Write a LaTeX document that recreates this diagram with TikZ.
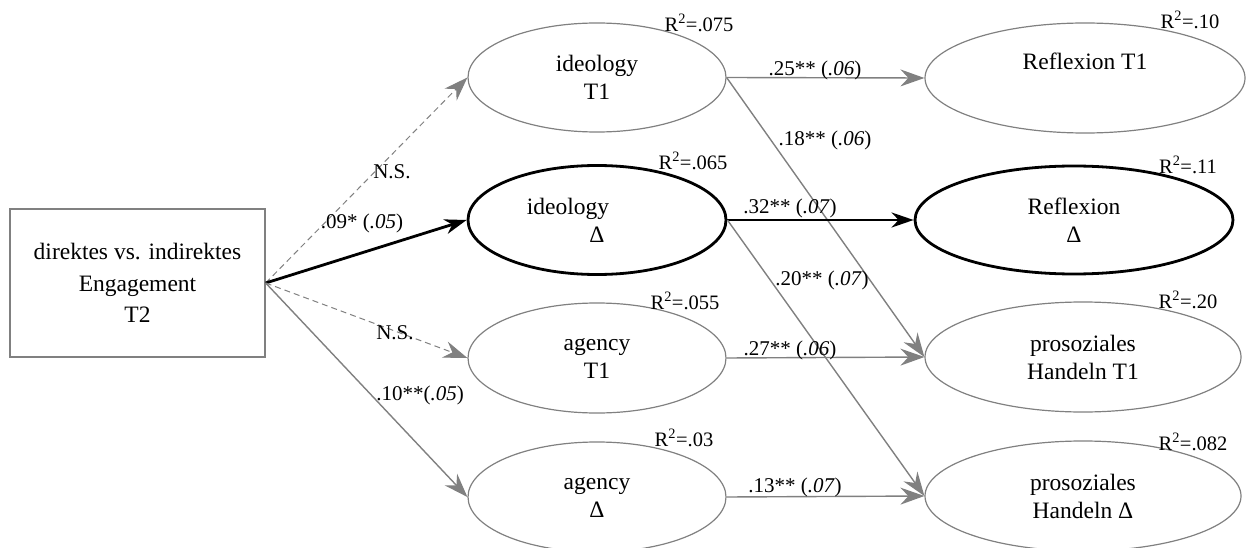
\documentclass[tikz,border=0pt]{standalone}
\usepackage{fontspec}
\setmainfont{Liberation Serif}
\usetikzlibrary{shapes.geometric,arrows.meta}
\definecolor{pathgray}{RGB}{128,128,128}
\begin{document}
\begin{tikzpicture}[x=1pt,y=-1pt,
  latent/.style={ellipse,draw=pathgray,line width=1.2pt,inner sep=0pt,
    align=center,font=\fontsize{23.5}{28}\selectfont},
  latentsig/.style={latent,draw=black,line width=2.8pt},
  observed/.style={rectangle,draw=pathgray,line width=1.4pt,inner sep=0pt,
    align=center,font=\fontsize{23.5}{31.5}\selectfont},
  tip/.style={-{Stealth[length=24pt,width=17pt,inset=8pt]}},
  path/.style={tip,draw=pathgray,line width=1.4pt},
  pathsig/.style={-{Stealth[length=22pt,width=15pt,inset=7pt]},draw=black,line width=2.8pt},
  pathns/.style={tip,draw=pathgray,line width=1pt,dash pattern=on 6pt off 4pt},
  coef/.style={inner sep=0pt,font=\fontsize{21}{24}\selectfont},
  rsq/.style={inner sep=0pt,font=\fontsize{20.5}{24}\selectfont}]
\useasboundingbox (0,0) rectangle (1247,548);

% predictor
\node[observed,minimum width=255pt,minimum height=148pt] (eng) at (137.5,283)
  {direktes vs. indirektes\\Engagement\\T2};

% mediators
\node[latent,minimum width=258pt,minimum height=109pt] (idT1) at (597,77.5) {ideology\\T1};
\node[latentsig,minimum width=258pt,minimum height=109pt] (idD) at (597,220) {ideology\hspace*{58pt}\\Δ};
\node[latent,minimum width=258pt,minimum height=110pt] (agT1) at (597,358) {agency\\T1};
\node[latent,minimum width=258pt,minimum height=110pt] (agD) at (597,497) {agency\\Δ};

% outcomes
\node[latent,minimum width=320pt,minimum height=110pt] (refT1) at (1085,78) {Reflexion T1\\[6pt]\mbox{}};
\node[latentsig,minimum width=318pt,minimum height=108pt] (refD) at (1074,220) {Reflexion\\Δ};
\node[latent,minimum width=316pt,minimum height=110pt] (proT1) at (1083,357) {prosoziales\\Handeln T1};
\node[latent,minimum width=316pt,minimum height=110pt] (proD) at (1083,496) {prosoziales\\Handeln Δ};

% paths from the predictor
\draw[pathns] (eng.east) -- (idT1.west);
\draw[pathsig] (eng.east) -- (idD.west);
\draw[pathns] (eng.east) -- (agT1.west);
\draw[path] (eng.east) -- (agD.west);

% paths to the outcomes
\draw[path] (idT1.east) -- (refT1.west);
\draw[path] (idT1.east) -- (proT1.west);
\draw[pathsig] (idD.east) -- (refD.west);
\draw[path] (idD.east) -- (proD.west);
\draw[path] (agT1.east) -- (proT1.west);
\draw[path] (agD.east) -- (proD.west);

% coefficients
\node[coef] (cNSa) at (392,172) {N.S.};
\node[coef] (c09) at (362,223) {.09* (\textit{.05})};
\node[coef] (cNSb) at (395,333) {N.S.};
\node[coef] (c10) at (420,395) {.10**(\textit{.05})};
\node[coef] (c25) at (815,70) {.25** (\textit{.06})};
\node[coef] (c18) at (825,140) {.18** (\textit{.06})};
\node[coef] (c32) at (790,208) {.32** (\textit{.07})};
\node[coef] (c20) at (822,280) {.20** (\textit{.07})};
\node[coef] (c27) at (790,350) {.27** (\textit{.06})};
\node[coef] (c13) at (795,487) {.13** (\textit{.07})};

% explained variance
\node[rsq] (rIdT1) at (699,23) {R\textsuperscript{2}=.075};
\node[rsq] (rIdD) at (693,161) {R\textsuperscript{2}=.065};
\node[rsq] (rAgT1) at (685,301) {R\textsuperscript{2}=.055};
\node[rsq] (rAgD) at (684,438) {R\textsuperscript{2}=.03};
\node[rsq] (rRefT1) at (1190,20) {R\textsuperscript{2}=.10};
\node[rsq] (rRefD) at (1188,165) {R\textsuperscript{2}=.11};
\node[rsq] (rProT1) at (1188,300) {R\textsuperscript{2}=.20};
\node[rsq] (rProD) at (1193,442) {R\textsuperscript{2}=.082};
\end{tikzpicture}
\end{document}
